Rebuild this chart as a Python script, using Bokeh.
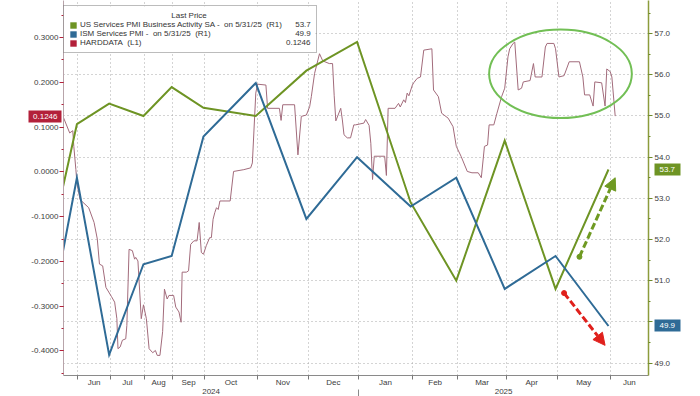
import numpy as np
import pandas as pd
from bokeh.plotting import figure
from bokeh.models import (Range1d, LinearAxis, FixedTicker, Grid, Legend, LegendItem,
                          Arrow, NormalHead, PrintfTickFormatter, BoxAnnotation)
from bokeh.embed import file_html
from bokeh.resources import INLINE

# ---------------- data ----------------
pmi_dates = ["2024-04-30", "2024-05-31", "2024-06-30", "2024-07-31", "2024-08-31",
             "2024-09-30", "2024-10-31", "2024-11-30", "2024-12-31", "2025-01-31",
             "2025-02-28", "2025-03-31", "2025-04-30", "2025-05-31"]
us_services_pmi = [51.3, 54.8, 55.3, 55.0, 55.7, 55.2, 55.0, 56.1, 56.8, 52.9, 51.0, 54.4, 50.8, 53.7]
ism_services_pmi = [49.4, 53.5, 49.2, 51.4, 51.6, 54.5, 55.8, 52.5, 54.0, 52.8, 53.5, 50.8, 51.6, 49.9]

hard_dates = (
    ["2024-05-17", "2024-05-24", "2024-05-27", "2024-05-28", "2024-05-30", "2024-05-31"]
    + ["2024-06-03", "2024-06-11", "2024-06-16", "2024-06-19", "2024-06-21", "2024-06-24", "2024-06-27"]
    + ["2024-07-02", "2024-07-05", "2024-07-07", "2024-07-08", "2024-07-10", "2024-07-12", "2024-07-15",
       "2024-07-16", "2024-07-18", "2024-07-21", "2024-07-23", "2024-07-24", "2024-07-26", "2024-07-29",
       "2024-07-31"]
    + ["2024-08-03", "2024-08-06", "2024-08-10", "2024-08-13", "2024-08-15", "2024-08-18", "2024-08-21",
       "2024-08-23", "2024-08-26", "2024-08-28"]
    + ["2024-09-02", "2024-09-04", "2024-09-07", "2024-09-09", "2024-09-10", "2024-09-14", "2024-09-16",
       "2024-09-18", "2024-09-21", "2024-09-24", "2024-09-26", "2024-09-28", "2024-09-30"]
    + ["2024-10-02", "2024-10-04", "2024-10-05", "2024-10-06", "2024-10-07", "2024-10-08", "2024-10-09",
       "2024-10-10", "2024-10-16", "2024-10-18", "2024-10-24", "2024-10-28", "2024-10-29", "2024-10-31"]
    + ["2024-11-01", "2024-11-06", "2024-11-07", "2024-11-14", "2024-11-15", "2024-11-16", "2024-11-23",
       "2024-11-25", "2024-11-27", "2024-11-30"]
    + ["2024-12-02", "2024-12-03", "2024-12-05", "2024-12-08", "2024-12-10", "2024-12-14", "2024-12-16",
       "2024-12-17", "2024-12-18", "2024-12-21", "2024-12-22", "2024-12-23", "2024-12-25", "2024-12-27",
       "2024-12-29", "2024-12-30"]
    + ["2025-01-04", "2025-01-05", "2025-01-07", "2025-01-08", "2025-01-09", "2025-01-10", "2025-01-16",
       "2025-01-17", "2025-01-18", "2025-01-22", "2025-01-24", "2025-01-25", "2025-01-27", "2025-01-28",
       "2025-01-29", "2025-01-30"]
    + ["2025-02-01", "2025-02-02", "2025-02-04", "2025-02-06", "2025-02-08", "2025-02-13", "2025-02-14",
       "2025-02-17", "2025-02-19", "2025-02-23", "2025-02-26", "2025-02-28"]
    + ["2025-03-03", "2025-03-07", "2025-03-10", "2025-03-14", "2025-03-16", "2025-03-18", "2025-03-20",
       "2025-03-21", "2025-03-24", "2025-03-26", "2025-03-29", "2025-03-31"]
    + ["2025-04-02", "2025-04-03", "2025-04-05", "2025-04-06", "2025-04-08", "2025-04-10", "2025-04-11",
       "2025-04-15", "2025-04-17", "2025-04-18", "2025-04-22", "2025-04-24", "2025-04-25", "2025-04-29",
       "2025-04-30"]
    + ["2025-05-02", "2025-05-05", "2025-05-08", "2025-05-14", "2025-05-16", "2025-05-17", "2025-05-20",
       "2025-05-22", "2025-05-23", "2025-05-27", "2025-05-29", "2025-05-30"]
    + ["2025-06-01", "2025-06-02", "2025-06-04"]
)
hard_values = (
    [0.127, 0.087, 0.092, 0.057, 0.005, -0.025]
    + [-0.062, -0.080, -0.113, -0.150, -0.206, -0.210, -0.258]
    + [-0.278, -0.291, -0.328, -0.395, -0.391, -0.376, -0.373,
       -0.343, -0.173, -0.176, -0.195, -0.191, -0.199, -0.328,
       -0.297]
    + [-0.328, -0.395, -0.404, -0.399, -0.410, -0.410, -0.357,
       -0.262, -0.284, -0.276]
    + [-0.276, -0.302, -0.313, -0.336, -0.224, -0.224, -0.221,
       -0.162, -0.154, -0.154, -0.113, -0.180, -0.184]
    + [-0.165, -0.147, -0.147, -0.106, -0.091, -0.080, -0.084,
       -0.065, -0.065, 0.001, 0.005, 0.009, 0.020, 0.176]
    + [0.196, 0.194, 0.142, 0.142, 0.115, 0.150, 0.150,
       0.038, 0.124, 0.127]
    + [0.146, 0.168, 0.220, 0.264, 0.248, 0.242, 0.242,
       0.170, 0.114, 0.142, 0.116, 0.083, 0.076, 0.076,
       0.105, 0.105]
    + [0.109, 0.117, 0.104, 0.064, -0.017, 0.035, 0.035,
       -0.008, 0.142, 0.142, 0.153, 0.145, 0.161, 0.155,
       0.176, 0.170]
    + [0.194, 0.200, 0.209, 0.212, 0.272, 0.275, 0.183,
       0.168, 0.131, 0.120, 0.101, 0.057]
    + [0.035, 0.001, -0.002, -0.002, -0.013, 0.057, 0.060,
       0.105, 0.105, 0.131, 0.168, 0.187]
    + [0.257, 0.275, 0.287, 0.290, 0.183, 0.187, 0.201,
       0.204, 0.242, 0.212, 0.212, 0.279, 0.287, 0.287,
       0.275]
    + [0.212, 0.215, 0.246, 0.246, 0.212, 0.172, 0.172,
       0.147, 0.201, 0.199, 0.147, 0.230]
    + [0.224, 0.212, 0.1246]
)

month_labels = ["Jun", "Jul", "Aug", "Sep", "Oct", "Nov", "Dec",
                "Jan", "Feb", "Mar", "Apr", "May", "Jun"]
year_labels = ["2024", "2025"]
left_ticks = [-0.4, -0.3, -0.2, -0.1, 0.0, 0.1, 0.2, 0.3]
right_ticks = [49.0, 50.0, 51.0, 52.0, 53.0, 54.0, 55.0, 56.0, 57.0]

series_names = ["US Services PMI Business Activity SA -\u00a0\u00a0on 5/31/25\u00a0\u00a0(R1)",
                "ISM Services PMI -\u00a0\u00a0on 5/31/25\u00a0\u00a0(R1)",
                "HARDDATA\u00a0\u00a0(L1)"]
last_pmi, last_ism, last_hard = 53.7, 49.9, 0.1246

# hand-drawn annotations in the original (dates / right-axis values)
green_arrow = [("2025-05-14", 51.58), ("2025-06-04", 53.50)]
red_arrow = [("2025-05-05", 50.70), ("2025-05-29", 49.43)]
circle_span = ("2025-03-21", "2025-06-14", 54.95, 57.10)

# ---------------- axis geometry (the source time axis is compressed before Oct) ----------------
month_first = pd.date_range("2024-04-01", "2025-07-01", freq="MS")
month_span = [31.0, 32.0, 32.3, 34.4, 28.0, 32.0, 53.0, 50.6, 50.7, 53.7, 45.6, 48.4, 51.0, 53.0, 50.0]
month_pos = 14.0 + np.concatenate([[0.0], np.cumsum(month_span)])
view_start, view_end = "2024-05-18", "2025-06-24"


def days(d):
    return np.asarray(pd.to_datetime(d), dtype="datetime64[s]").astype("int64") / 86400.0


def X(d):
    return np.interp(days(d), days(month_first), month_pos)


x0, x1 = float(X([view_start])[0]), float(X([view_end])[0])
LEFT_LIM = (-0.4549, 0.3829)
RIGHT_LIM = (48.698, 57.804)
FRAME_H = 377.0
L_PX = (LEFT_LIM[1] - LEFT_LIM[0]) / FRAME_H


def left_at(py):      # left-axis value at a given height in the frame (px from top)
    return LEFT_LIM[1] - py * L_PX


# Arial / Liberation Sans advance widths (1/1000 em), used to right-align the legend values
ADV = {" ": 278, "\u00a0": 278, "-": 333, ".": 278, "/": 278, "(": 333, ")": 333,
       "A": 667, "B": 667, "D": 722, "H": 722, "I": 278, "L": 556, "M": 833, "P": 667,
       "R": 722, "S": 667, "T": 611, "U": 722, "a": 556, "c": 500, "e": 556, "i": 222,
       "n": 556, "o": 556, "r": 333, "s": 500, "t": 278, "u": 556, "v": 500, "y": 500}


def text_w(s, size):
    return sum(ADV.get(ch, 556) for ch in s) * size / 1000.0


GREEN = "#6e9424"
BLUE = "#2f6b96"
CRIMSON = "#b3203a"
HARD_LINE = "#a26b7b"
FONT = "Liberation Sans"
TXT = "#3c3c3c"

p = figure(width=700, height=396, output_backend="svg", toolbar_location=None,
           x_range=Range1d(x0, x1), y_range=Range1d(*LEFT_LIM),
           min_border_left=63, min_border_right=52, min_border_top=0, min_border_bottom=19,
           background_fill_color="white", border_fill_color="white", outline_line_color=None)
p.extra_y_ranges = {"right": Range1d(*RIGHT_LIM)}

# ---- grids ----
p.xgrid[0].ticker = FixedTicker(ticks=[float(v) for v in month_pos])
p.xgrid[0].grid_line_color = "#a8a8a8"
p.xgrid[0].grid_line_dash = "1 3"
p.ygrid[0].visible = False
p.add_layout(Grid(dimension=1, ticker=FixedTicker(ticks=right_ticks), y_range_name="right",
                  grid_line_color="#a8a8a8", grid_line_dash="1 3"))

# ---- bottom axis: month labels at month centres, ticks at month boundaries ----
starts = month_pos[2:15]
ends = month_pos[3:16]
centers = [round(float((a + min(b, x1)) / 2), 2) for a, b in zip(starts, ends)]
xa = p.xaxis[0]
xa.ticker = FixedTicker(ticks=centers, minor_ticks=[float(v) for v in month_pos])
xa.major_label_overrides = {c: lab for c, lab in zip(centers, month_labels)}
xa.major_tick_out = 0
xa.major_tick_in = 0
xa.minor_tick_out = 4
xa.minor_tick_in = 0
xa.minor_tick_line_color = "#777777"
xa.axis_line_color = "#8a8a8a"
xa.major_label_standoff = -2
xa.major_label_text_font = FONT
xa.major_label_text_font_size = "8px"
xa.major_label_text_color = TXT

# year row: second axis stacked below (negative standoff keeps it inside the 19px margin)
jan_pos = float(X(["2025-01-01"])[0])
year_centers = [round((x0 + jan_pos) / 2, 2), round((jan_pos + x1) / 2, 2)]
ya_year = LinearAxis(ticker=FixedTicker(ticks=year_centers, minor_ticks=[jan_pos]),
                     major_label_overrides={c: t for c, t in zip(year_centers, year_labels)},
                     axis_line_color=None, major_tick_out=0, major_tick_in=0,
                     minor_tick_out=8, minor_tick_in=0, minor_tick_line_color="#8a8a8a",
                     major_label_standoff=-9, major_label_text_font=FONT,
                     major_label_text_font_size="8px", major_label_text_color=TXT)
p.add_layout(ya_year, "below")

# ---- left axis ----
ya = p.yaxis[0]
ya.ticker = FixedTicker(ticks=left_ticks,
                        minor_ticks=[round(v, 2) for v in np.arange(-0.45, 0.36, 0.05)])
ya.formatter = PrintfTickFormatter(format="%.4f")
ya.axis_line_color = "#b8a4aa"
ya.major_tick_line_color = CRIMSON
ya.minor_tick_line_color = CRIMSON
ya.major_tick_out = 4
ya.major_tick_in = 0
ya.minor_tick_out = 2
ya.minor_tick_in = 0
ya.major_label_standoff = 1
ya.major_label_text_font = FONT
ya.major_label_text_font_size = "8px"
ya.major_label_text_color = TXT

# ---- right axis ----
ra = LinearAxis(y_range_name="right",
                ticker=FixedTicker(ticks=right_ticks,
                                   minor_ticks=[round(v, 1) for v in np.arange(48.5, 57.6, 0.5)]),
                formatter=PrintfTickFormatter(format="%.1f"),
                major_label_overrides={50.0: ""})
ra.axis_line_color = "#8c9c3c"
ra.axis_line_width = 1.5
ra.major_tick_line_color = "#6e8a2a"
ra.minor_tick_line_color = "#6e8a2a"
ra.major_tick_out = 4
ra.major_tick_in = 0
ra.minor_tick_out = 2
ra.minor_tick_in = 0
ra.major_label_standoff = 2
ra.major_label_text_font = FONT
ra.major_label_text_font_size = "8px"
ra.major_label_text_color = TXT
p.add_layout(ra, "right")

# ---- series ----
p.line(X(hard_dates), hard_values, line_color=HARD_LINE, line_width=1)
p.line(X(pmi_dates), us_services_pmi, y_range_name="right", line_color=GREEN, line_width=2,
       line_join="miter")
p.line(X(pmi_dates), ism_services_pmi, y_range_name="right", line_color=BLUE, line_width=2,
       line_join="miter")

# ---- hand-drawn highlights ----
cx0, cx1 = X([circle_span[0], circle_span[1]])
p.ellipse(x=[(cx0 + cx1) / 2], y=[(circle_span[2] + circle_span[3]) / 2], width=[cx1 - cx0],
          height=[circle_span[3] - circle_span[2]], y_range_name="right",
          fill_alpha=0, line_color="#72bf55", line_width=2)
for arr, col in [(green_arrow, "#6f9a22"), (red_arrow, "#e0201c")]:
    ax = X([arr[0][0], arr[1][0]])
    p.add_layout(Arrow(x_start=float(ax[0]), y_start=arr[0][1], x_end=float(ax[1]), y_end=arr[1][1],
                       y_range_name="right", line_color=col, line_width=3, line_dash="7 3",
                       end=NormalHead(size=12, fill_color=col, line_color=col)))
    p.scatter(x=[float(ax[0])], y=[arr[0][1]], y_range_name="right", size=5, color=col)


# ---- last-value tags: a thick tick on a stacked axis gives the coloured box,
#      a white tick label on another stacked axis gives the text ----
def tag_bar(val, color, side, tick_in, tick_out, rng=None):
    bar = LinearAxis(ticker=FixedTicker(ticks=[val], minor_ticks=[]),
                     major_label_overrides={val: ""}, major_label_standoff=0,
                     axis_line_color=None, minor_tick_line_color=None,
                     minor_tick_in=0, minor_tick_out=0,
                     major_tick_in=tick_in, major_tick_out=tick_out,
                     major_tick_line_color=color, major_tick_line_width=12,
                     major_tick_line_cap="butt")
    if rng is not None:
        bar.y_range_name = rng
    p.add_layout(bar, side)


# right margin: main axis ~22px wide, tag box spans 3..29px right of the frame
tag_bar(last_pmi, GREEN, "right", 19, 7, "right")
tag_bar(last_ism, BLUE, "right", 26, 0, "right")
rtag = LinearAxis(y_range_name="right", ticker=FixedTicker(ticks=[last_pmi, last_ism], minor_ticks=[]),
                  formatter=PrintfTickFormatter(format="%.1f"),
                  axis_line_color=None, major_tick_out=0, major_tick_in=0,
                  minor_tick_out=0, minor_tick_in=0, major_tick_line_color=None,
                  minor_tick_line_color=None, major_label_standoff=-21,
                  major_label_text_font=FONT, major_label_text_font_size="8px",
                  major_label_text_color="white")
p.add_layout(rtag, "right")

# left margin: main axis ~35px wide, tag box spans 35..2px left of the frame
tag_bar(last_hard, CRIMSON, "left", 33, 0)
ltag = LinearAxis(ticker=FixedTicker(ticks=[last_hard], minor_ticks=[]),
                  formatter=PrintfTickFormatter(format="%.4f"),
                  axis_line_color=None, major_tick_out=0, major_tick_in=0,
                  minor_tick_out=0, minor_tick_in=0, major_tick_line_color=None,
                  minor_tick_line_color=None, major_label_standoff=-29,
                  major_label_text_font=FONT, major_label_text_font_size="8px",
                  major_label_text_color="white")
p.add_layout(ltag, "left")

# ---- legend: white backing box + transparent legend; last values right-aligned in each row ----
LEG_FS = 8.0
PAD, GLYPH, STANDOFF, LABEL_W = 5, 8, 3, 231
p.add_layout(BoxAnnotation(left=x0, right=x0 + 252, top=left_at(6), bottom=left_at(52),
                           fill_color="white", fill_alpha=1, line_color=None))
sw = [p.quad(left=[np.nan], right=[np.nan], top=[np.nan], bottom=[np.nan], fill_color=c,
             line_color=None) for c in (GREEN, BLUE, CRIMSON)]
values_txt = ["%.1f" % last_pmi, "%.1f" % last_ism, "%.4f" % last_hard]
rows = []
for nm, vt in zip(series_names, values_txt):
    gap = LABEL_W - text_w(nm, LEG_FS) - text_w(vt, LEG_FS)
    rows.append(nm + "\u00a0" * max(1, int(round(gap / text_w("\u00a0", LEG_FS)))) + vt)
title_txt = "Last Price"
title_pad = int(round((LABEL_W + GLYPH + STANDOFF - text_w(title_txt, LEG_FS)) / 2
                      / text_w("\u00a0", LEG_FS)))
legend = Legend(items=[LegendItem(label=t, renderers=[r]) for t, r in zip(rows, sw)],
                location=(0, 322), margin=0, padding=PAD, spacing=0,
                glyph_width=GLYPH, glyph_height=GLYPH, label_height=9, label_width=LABEL_W,
                label_standoff=STANDOFF,
                label_text_font=FONT, label_text_font_size="8px", label_text_color="#333333",
                label_text_line_height=1.0,
                title="\u00a0" * title_pad + title_txt, title_text_font=FONT,
                title_text_font_size="8px", title_text_font_style="normal",
                title_text_color="#333333", title_standoff=0, title_text_line_height=1.0,
                border_line_color="#7a7a7a", background_fill_alpha=0)
p.add_layout(legend)

open("out.html", "w").write(file_html(p, INLINE))
